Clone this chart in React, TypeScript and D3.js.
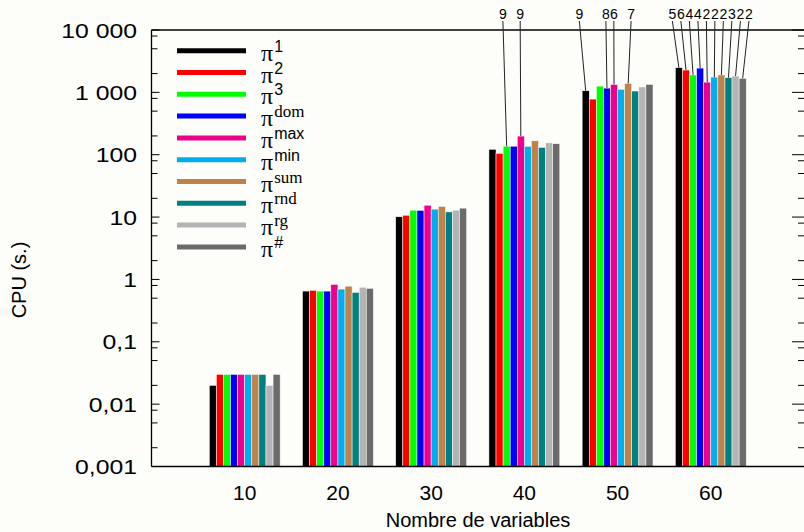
import React, { useEffect } from "react";
import * as d3 from "d3";

const groups = [10, 20, 30, 40, 50, 60];
const seriesSup = ["1", "2", "3", "dom", "max", "min", "sum", "rnd", "rg", "#"];
const supSerif = [false, false, false, true, false, false, true, true, true, false];
const colors = ["#000000", "#ff0000", "#00ff00", "#0000ff", "#ec008c", "#00aeef", "#c0814a", "#008080", "#b4b4b4", "#6b6b6b"];

const pi1 = [0.02, 0.65, 10.1, 122, 1060, 2480];
const pi2 = [0.03, 0.67, 10.7, 105, 780, 2280];
const pi3 = [0.03, 0.65, 12.9, 137, 1260, 1900];
const piDom = [0.03, 0.65, 12.8, 137, 1170, 2450];
const piMax = [0.03, 0.83, 15.5, 199, 1340, 1460];
const piMin = [0.03, 0.70, 13.4, 136, 1120, 1760];
const piSum = [0.03, 0.78, 14.8, 167, 1390, 1900];
const piRnd = [0.03, 0.62, 12.1, 131, 1050, 1720];
const piRg = [0.02, 0.75, 12.9, 155, 1220, 1830];
const piHash = [0.03, 0.72, 13.9, 150, 1340, 1680];
const series = [pi1, pi2, pi3, piDom, piMax, piMin, piSum, piRnd, piRg, piHash];

const yTicks = [10000, 1000, 100, 10, 1, 0.1, 0.01, 0.001];
const yTickLabels = ["10 000", "1 000", "100", "10", "1", "0,1", "0,01", "0,001"];

// annotations: group, series index, label
const annGroup = [40, 40, 50, 50, 50, 50, 60, 60, 60, 60, 60, 60, 60, 60, 60, 60];
const annSeries = [2, 4, 0, 3, 4, 6, 0, 1, 2, 3, 4, 5, 6, 7, 8, 9];
const annLabel = ["9", "9", "9", "8", "6", "7", "5", "6", "4", "4", "2", "2", "2", "3", "2", "2"];
// label x position (in x-axis units)
const annLx = [37.7, 39.55, 45.9, 48.75, 49.6, 51.45, 55.88, 56.79, 57.70, 58.62, 59.53, 60.44, 61.35, 62.26, 63.18, 64.09];

const W = 804, H = 532;
const L = 151.5, R = 804, T = 30, B = 466.5;

export default function App() {
  useEffect(() => {
    document.body.style.margin = "0";
  }, []);
  const x = d3.scaleLinear().domain([0, 70]).range([L, R]);
  const y = d3.scaleLog().domain([0.001, 10000]).range([B, T]);
  const groupW = 7.6;
  const barW = groupW / series.length;
  const barX = (g: number, i: number) => x(g - groupW / 2 + i * barW);
  const barCx = (g: number, i: number) => x(g - groupW / 2 + (i + 0.5) * barW);

  const minor: number[] = [];
  for (let e = -3; e < 4; e++) {
    [2, 5, 8].forEach((m) => minor.push(m * Math.pow(10, e)));
  }

  const sans = "'Liberation Sans', Arial, sans-serif";
  const serif = "'Liberation Serif', 'Times New Roman', serif";

  return (
    <svg width={W} height={H} style={{ position: "absolute", left: 0, top: 0, display: "block" }}>
      <rect x={0} y={0} width={W} height={H} fill="#fdfdf9" />
      {/* bars */}
      {series.map((s, i) =>
        groups.map((g, gi) => (
          <rect
            key={`b${i}-${gi}`}
            x={barX(g, i)}
            y={y(s[gi])}
            width={x(barW) - x(0)}
            height={B - y(s[gi])}
            fill={colors[i]}
            stroke="#fdfdf9"
            strokeWidth={0.5}
          />
        ))
      )}
      {/* frame */}
      <line x1={L} x2={L} y1={T} y2={B} stroke="#000" strokeWidth={1.3} />
      <line x1={L} x2={R} y1={T} y2={T} stroke="#000" strokeWidth={1.3} />
      <line x1={L} x2={R} y1={B} y2={B} stroke="#000" strokeWidth={1.3} />
      {/* ticks */}
      {yTicks.map((t, k) => (
        <g key={`t${k}`}>
          <line x1={L} x2={L + 8} y1={y(t)} y2={y(t)} stroke="#000" strokeWidth={1} />
          <line x1={R - 12} x2={R} y1={y(t)} y2={y(t)} stroke="#000" strokeWidth={1} />
          <text
            transform={`translate(137, ${y(t) + 7.5}) scale(1.18, 1)`}
            textAnchor="end"
            fontFamily={sans}
            fontSize={21}
            fill="#000"
          >
            {yTickLabels[k]}
          </text>
        </g>
      ))}
      {minor.map((t, k) => (
        <g key={`m${k}`}>
          <line x1={L} x2={L + 6} y1={y(t)} y2={y(t)} stroke="#000" strokeWidth={1} />
          <line x1={R - 6} x2={R} y1={y(t)} y2={y(t)} stroke="#000" strokeWidth={1} />
        </g>
      ))}
      {groups.map((g) => (
        <text key={`x${g}`} x={x(g)} y={500} textAnchor="middle" fontFamily={sans} fontSize={21} fill="#000">
          {g}
        </text>
      ))}
      <text x={478} y={527} textAnchor="middle" fontFamily={sans} fontSize={20} fill="#000">
        Nombre de variables
      </text>
      <text
        transform={`translate(26, 280) rotate(-90)`}
        textAnchor="middle"
        fontFamily={sans}
        fontSize={20}
        fill="#000"
      >
        CPU (s.)
      </text>
      {/* annotations */}
      {annGroup.map((g, k) => {
        const gi = groups.indexOf(g);
        const si = annSeries[k];
        return (
          <g key={`a${k}`}>
            <line x1={x(annLx[k])} y1={21} x2={barCx(g, si)} y2={y(series[si][gi])} stroke="#222" strokeWidth={1} />
            <text x={x(annLx[k])} y={19} textAnchor="middle" fontFamily={sans} fontSize={14} fill="#000">
              {annLabel[k]}
            </text>
          </g>
        );
      })}
      {/* legend */}
      {seriesSup.map((s, i) => {
        const ly = 50.7 + i * 21.8;
        return (
          <g key={`l${i}`}>
            <line x1={177} x2={246} y1={ly} y2={ly} stroke={colors[i]} strokeWidth={5} />
            <text x={261} y={ly + 10} fill="#000">
              <tspan fontFamily={serif} fontSize={24}>π</tspan>
              <tspan
                dx={1}
                dy={-9}
                fontFamily={supSerif[i] ? serif : sans}
                fontSize={supSerif[i] ? 17 : 16}
              >
                {s}
              </tspan>
            </text>
          </g>
        );
      })}
    </svg>
  );
}
